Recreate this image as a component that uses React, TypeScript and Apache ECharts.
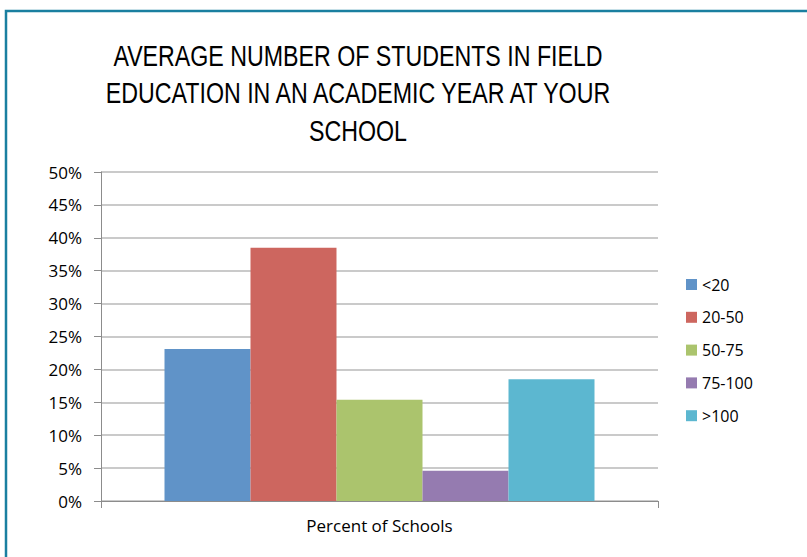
import React, { useEffect, useRef } from "react";
import * as echarts from "echarts";

const categories = ["Percent of Schools"];
const seriesNames = ["<20", "20-50", "50-75", "75-100", ">100"];
const seriesValues = [23.1, 38.5, 15.4, 4.6, 18.5];
const seriesColors = ["#6093c8", "#cd665f", "#abc46d", "#957bb0", "#5cb7d0"];
const titleLines = [
  "AVERAGE NUMBER OF STUDENTS IN FIELD",
  "EDUCATION IN AN ACADEMIC YEAR AT YOUR",
  "SCHOOL",
];

const FONT = "'Liberation Sans', Arial, sans-serif";
const FONT2 = "'Open Sans', 'Liberation Sans', sans-serif";

export default function App() {
  const ref = useRef<HTMLDivElement>(null);
  useEffect(() => {
    if (!ref.current) return;
    const chart = echarts.init(ref.current, undefined, { renderer: "svg" });
    chart.setOption({
      animation: false,
      backgroundColor: "#ffffff",
      graphic: [
        {
          type: "rect",
          shape: { x: 6, y: 11, width: 840, height: 600 },
          style: { fill: "none", stroke: "#1a7fa0", lineWidth: 2.5 },
          silent: true,
        },
        ...titleLines.map((t, i) => ({
          type: "text",
          x: 358,
          y: 56 + i * 37.5,
          scaleX: 0.8,
          style: {
            text: t,
            font: `29px ${FONT}`,
            fill: "#000000",
            textAlign: "center",
            textVerticalAlign: "middle",
          },
        })),
      ],
      legend: {
        orient: "vertical",
        left: 681,
        top: 271,
        itemWidth: 11,
        itemHeight: 11,
        itemGap: 15.8,
        icon: "rect",
        textStyle: { fontFamily: FONT2, fontSize: 16, color: "#000", lineHeight: 17, padding: [0, 0, 0, 0] },
        data: seriesNames,
      },
      grid: { left: 101, right: 149, top: 172, bottom: 56 },
      xAxis: {
        type: "category",
        data: categories,
        axisLine: { lineStyle: { color: "#8c8c8c", width: 1 } },
        axisTick: { show: true, length: 7, lineStyle: { color: "#8c8c8c" } },
        axisLabel: { fontFamily: FONT2, fontSize: 17, color: "#000", margin: 16 },
      },
      yAxis: {
        type: "value",
        min: 0,
        max: 50,
        interval: 5,
        axisLine: { show: true, lineStyle: { color: "#8c8c8c", width: 1 } },
        axisTick: { show: true, length: 7, lineStyle: { color: "#8c8c8c" } },
        axisLabel: { fontFamily: FONT2, fontSize: 17, color: "#000", margin: 19, formatter: "{value}%" },
        splitLine: { lineStyle: { color: "#b8b8b8", width: 1.5 } },
      },
      series: seriesNames.map((n, i) => ({
        name: n,
        type: "bar",
        data: [seriesValues[i]],
        barGap: "0%",
        barCategoryGap: "22.8%",
        itemStyle: { color: seriesColors[i] },
      })),
    });
    return () => chart.dispose();
  }, []);
  return (
    <div
      ref={ref}
      style={{ position: "absolute", left: 0, top: 0, width: 807, height: 557 }}
    />
  );
}
